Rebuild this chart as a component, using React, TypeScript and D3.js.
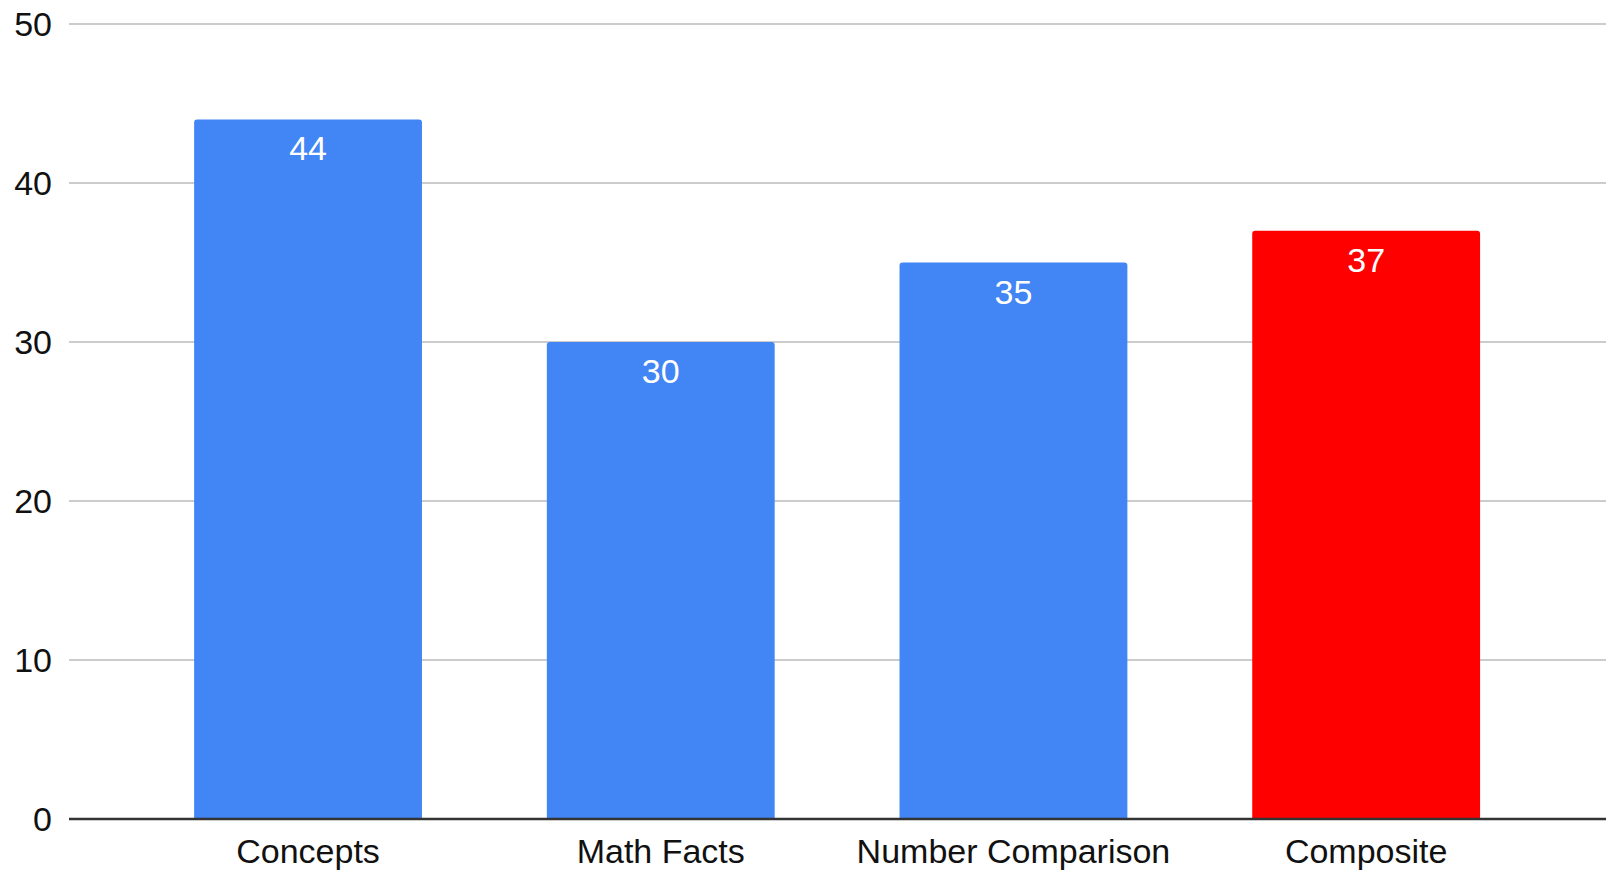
import React from "react";
import * as d3 from "d3";

const categories = ["Concepts", "Math Facts", "Number Comparison", "Composite"];
const values = [44, 30, 35, 37];
const barColors = ["#4285F4", "#4285F4", "#4285F4", "#FF0000"];
const yTicks = [0, 10, 20, 30, 40, 50];

const W = 1606;
const H = 871;
const FONT = "'Liberation Sans', Arial, Helvetica, sans-serif";

function topRoundedRect(x: number, y: number, w: number, h: number, r: number) {
  const p = d3.path();
  p.moveTo(x, y + h);
  p.lineTo(x, y + r);
  p.arcTo(x, y, x + r, y, r);
  p.lineTo(x + w - r, y);
  p.arcTo(x + w, y, x + w, y + r, r);
  p.lineTo(x + w, y + h);
  p.closePath();
  return p.toString();
}

export default function App() {
  const y = d3.scaleLinear().domain([0, 50]).range([819, 24]);
  const x = d3
    .scaleBand<string>()
    .domain(categories)
    .range([131.7, 1542.5])
    .paddingInner(0.354)
    .paddingOuter(0.177);
  const gridLeft = 69;
  const gridRight = W;

  return (
    <svg
      width={W}
      height={H}
      style={{ position: "absolute", left: 0, top: 0, background: "#fff" }}
      fontFamily={FONT}
    >
      <rect x={0} y={0} width={W} height={H} fill="#fff" />
      {yTicks.map((t) => (
        <g key={t}>
          {t !== 0 && (
            <line
              x1={gridLeft}
              x2={gridRight}
              y1={y(t)}
              y2={y(t)}
              stroke="#cccccc"
              strokeWidth={2}
            />
          )}
          <text
            x={52}
            y={y(t) + 11.5}
            textAnchor="end"
            fontSize={34}
            fill="#111"
          >
            {t}
          </text>
        </g>
      ))}
      {categories.map((c, i) => {
        const bx = x(c)!;
        const bw = x.bandwidth();
        const by = y(values[i]);
        const bh = y(0) - by;
        return (
          <g key={c}>
            <path d={topRoundedRect(bx, by, bw, bh, 3)} fill={barColors[i]} />
            <text
              x={bx + bw / 2}
              y={by + 41}
              textAnchor="middle"
              fontSize={34}
              fill="#fff"
            >
              {values[i]}
            </text>
            <text
              x={bx + bw / 2}
              y={863}
              textAnchor="middle"
              fontSize={34}
              fill="#111"
            >
              {c}
            </text>
          </g>
        );
      })}
      <line
        x1={gridLeft}
        x2={gridRight}
        y1={y(0)}
        y2={y(0)}
        stroke="#333"
        strokeWidth={2.5}
      />
    </svg>
  );
}
